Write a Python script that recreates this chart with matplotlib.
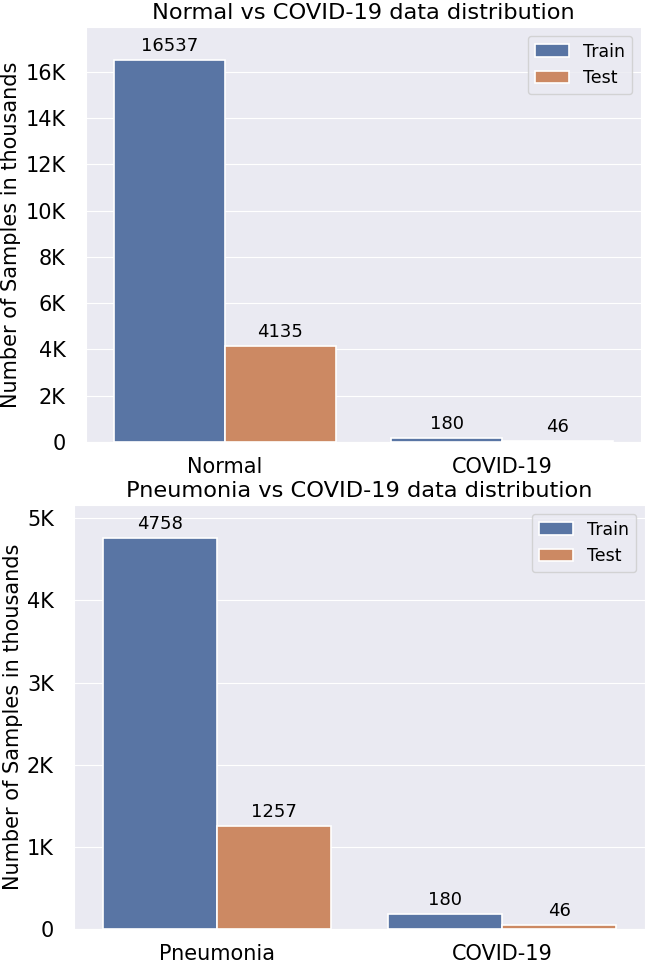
import matplotlib
matplotlib.use('Agg')
import matplotlib.pyplot as plt
from matplotlib.ticker import FuncFormatter, MultipleLocator
import numpy as np
import pandas as pd
import seaborn as sns

# data
splits = ['Train', 'Test']
normal_cats = ['Normal', 'COVID-19']
normal_train = [16537, 180]
normal_test = [4135, 46]
pneu_cats = ['Pneumonia', 'COVID-19']
pneu_train = [4758, 180]
pneu_test = [1257, 46]


def kfmt(x, pos):
    if x == 0:
        return '0'
    return '%dK' % int(round(x / 1000))


def draw(ax, cats, train, test, title, step):
    df = pd.DataFrame({
        'cat': cats * 2,
        'split': [splits[0]] * len(cats) + [splits[1]] * len(cats),
        'count': list(train) + list(test),
    })
    sns.barplot(data=df, x='cat', y='count', hue='split', ax=ax,
                palette='deep', saturation=0.75, edgecolor='white',
                linewidth=1.2, errorbar=None)
    for p in ax.patches:
        h = p.get_height()
        if np.isnan(h) or p.get_width() == 0:
            continue
        ax.annotate('%d' % h, (p.get_x() + p.get_width() / 2., h),
                    ha='center', va='center', xytext=(0, 10),
                    textcoords='offset points', fontsize=13)
    top = max(max(train), max(test))
    ax.set_ylim(0, top * 1.085)
    ax.set_xlim(-0.5, len(cats) - 0.5)
    ax.yaxis.set_major_locator(MultipleLocator(step))
    ax.yaxis.set_major_formatter(FuncFormatter(kfmt))
    ax.xaxis.grid(False)
    ax.set_xlabel('')
    ax.set_ylabel('Number of Samples in thousands', fontsize=15, labelpad=3)
    ax.set_title(title, fontsize=16.2)
    ax.tick_params(axis='y', labelsize=15, pad=11)
    ax.tick_params(axis='x', labelsize=15, pad=7)
    ax.legend(loc='upper right', fontsize=12.5, title=None)


sns.set_style('darkgrid')
plt.rcParams['font.family'] = ['DejaVu Sans']
plt.rcParams['text.color'] = 'black'
plt.rcParams['axes.labelcolor'] = 'black'
plt.rcParams['xtick.color'] = 'black'
plt.rcParams['ytick.color'] = 'black'

fig = plt.figure(figsize=(6.46, 9.63), dpi=100)
ax1 = fig.add_axes([86 / 646, 1 - 442 / 963, 555 / 646, 415 / 963])
ax2 = fig.add_axes([74 / 646, 1 - 929 / 963, 571 / 646, 424 / 963])

draw(ax1, normal_cats, normal_train, normal_test,
     'Normal vs COVID-19 data distribution', 2000)
draw(ax2, pneu_cats, pneu_train, pneu_test,
     'Pneumonia vs COVID-19 data distribution', 1000)

fig.savefig('out.png', dpi=100)
